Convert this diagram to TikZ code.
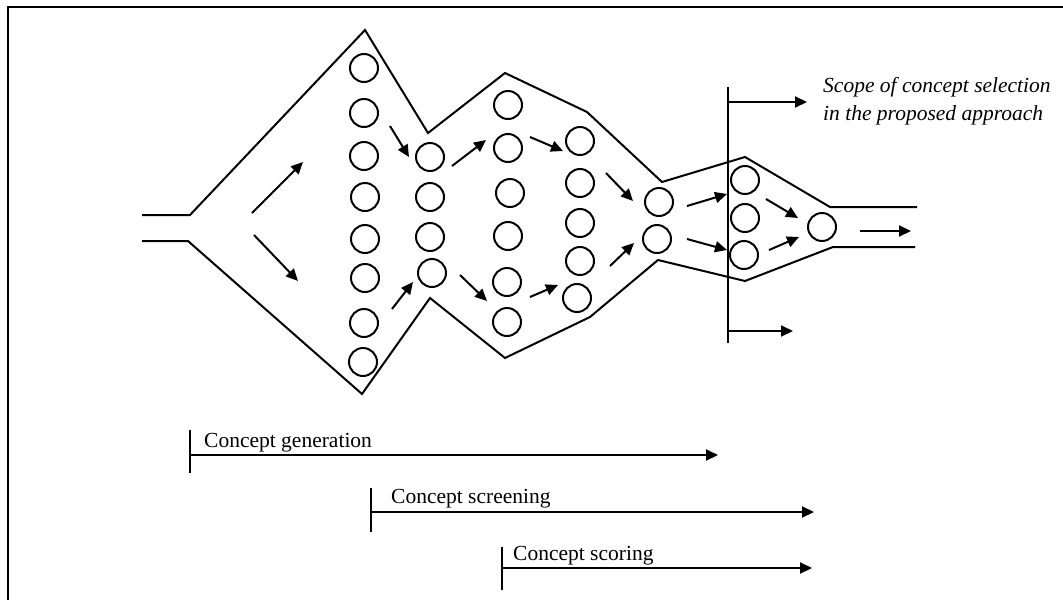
\documentclass[tikz,border=0pt]{standalone}
\usepackage{fontspec}
\setmainfont{Liberation Serif}
\usetikzlibrary{arrows.meta}
\tikzset{
  lin/.style={line width=2pt, line join=miter},
  bub/.style={circle, draw, line width=2pt, minimum size=28pt, inner sep=0pt},
  arr/.style={line width=2pt, -{Triangle[length=12pt,width=11pt]}},
  lbl/.style={anchor=base west, inner sep=0pt, font=\fontsize{21.5}{28}\selectfont},
}
\begin{document}
\begin{tikzpicture}[x=1pt,y=-1pt]
\useasboundingbox (0,0) rectangle (1063,600);
% frame
\draw[line width=2.6pt] (8,600) -- (8,7) -- (1063,7);
% funnel outline
\draw[lin] (142,215) -- (190,215) -- (365,30) -- (428,133) -- (505,73) -- (587,112) -- (662,182) -- (745,157) -- (830,207) -- (917,207);
\draw[lin] (142,241) -- (188,241) -- (362,394) -- (430,298) -- (505,358) -- (590,317) -- (658,260) -- (745,281) -- (833,247) -- (915,247);
% circles column 1
\foreach \i/\x/\y in {1/364/68,2/364/113,3/364/156,4/365/197,5/365/239,6/365/278,7/364/323,8/363/362}
  \node[bub] (a\i) at (\x,\y) {};
% column 2
\foreach \i/\x/\y in {1/430/157,2/430/197,3/430/237,4/432/273}
  \node[bub] (b\i) at (\x,\y) {};
% column 3
\foreach \i/\x/\y in {1/508/105,2/508/148,3/510/193,4/508/236,5/507/282,6/507/322}
  \node[bub] (c\i) at (\x,\y) {};
% column 4
\foreach \i/\x/\y in {1/580/141,2/580/183,3/580/223,4/580/261,5/577/298}
  \node[bub] (d\i) at (\x,\y) {};
% column 5
\node[bub] (e1) at (659,202) {};
\node[bub] (e2) at (657,239) {};
% column 6
\node[bub] (f1) at (745,180) {};
\node[bub] (f2) at (745,218) {};
\node[bub] (f3) at (744,255) {};
% column 7
\node[bub] (g1) at (822,227) {};
% flow arrows
\draw[arr] (252,213) -- (303,162);
\draw[arr] (254,235) -- (298,281);
\draw[arr] (390,126) -- (409,157);
\draw[arr] (392,309) -- (413,282);
\draw[arr] (452,166) -- (486,140);
\draw[arr] (460,275) -- (487,301);
\draw[arr] (530,137) -- (563,151);
\draw[arr] (530,297) -- (558,285);
\draw[arr] (606,173) -- (633,201);
\draw[arr] (610,266) -- (634,243);
\draw[arr] (687,206) -- (727,194);
\draw[arr] (687,239) -- (727,250);
\draw[arr] (766,199) -- (798,218);
\draw[arr] (769,250) -- (799,237);
\draw[arr] (860,231) -- (911,231);
% scope marker
\coordinate (s0) at (728,87);
\coordinate (s1) at (728,343);
\draw[lin] (s0) -- (s1);
\draw[arr] (728,102) -- (807,102);
\draw[arr] (728,331) -- (793,331);
\node[lbl, font=\fontsize{21.5}{28}\selectfont\itshape] (scope1) at (823,92) {Scope of concept selection};
\node[lbl, font=\fontsize{21.5}{28}\selectfont\itshape] (scope2) at (823,120) {in the proposed approach};
% phases
\draw[lin] (190,430) -- (190,473);
\draw[arr] (190,455) -- (718,455);
\node[lbl] (gen) at (204,447) {Concept generation};
\draw[lin] (371,488) -- (371,532);
\draw[arr] (371,512) -- (814,512);
\node[lbl] (scr) at (391,503) {Concept screening};
\draw[lin] (502,547) -- (502,590);
\draw[arr] (502,568) -- (812,568);
\node[lbl] (sco) at (513,560) {Concept scoring};
\end{tikzpicture}
\end{document}
